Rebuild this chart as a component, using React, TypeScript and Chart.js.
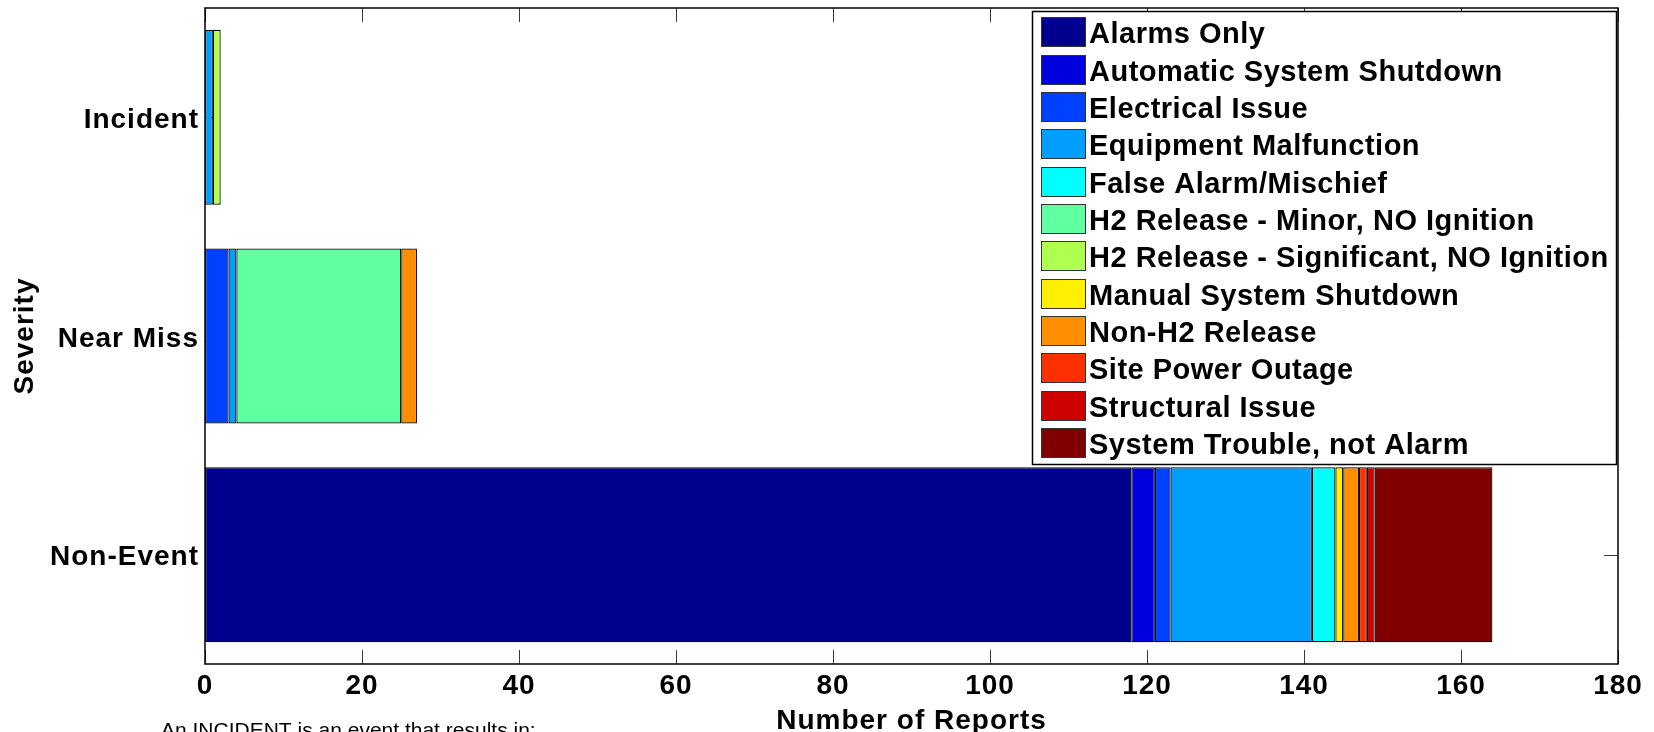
import React, { useEffect, useRef } from 'react';
import { Chart, registerables } from 'chart.js';

Chart.register(...registerables);

// ---------- data ----------
const categories = ['Incident', 'Near Miss', 'Non-Event'];

const seriesNames = [
  'Alarms Only',
  'Automatic System Shutdown',
  'Electrical Issue',
  'Equipment Malfunction',
  'False Alarm/Mischief',
  'H2 Release - Minor, NO Ignition',
  'H2 Release - Significant, NO Ignition',
  'Manual System Shutdown',
  'Non-H2 Release',
  'Site Power Outage',
  'Structural Issue',
  'System Trouble, not Alarm',
];

const seriesColors = [
  '#00008F', '#0000DF', '#0040FF', '#009FFF', '#00FFFF', '#60FF9F',
  '#AFFF50', '#FFEF00', '#FF8F00', '#FF3000', '#CF0000', '#800000',
];

// values per category: [Incident, Near Miss, Non-Event]
const alarmsOnly = [0, 0, 118];
const automaticShutdown = [0, 0, 3];
const electricalIssue = [0, 3, 2];
const equipmentMalfunction = [1, 1, 18];
const falseAlarm = [0, 0, 3];
const h2Minor = [0, 21, 0];
const h2Significant = [1, 0, 0];
const manualShutdown = [0, 0, 1];
const nonH2Release = [0, 2, 2];
const sitePowerOutage = [0, 0, 1];
const structuralIssue = [0, 0, 1];
const systemTrouble = [0, 0, 15];

const seriesValues = [
  alarmsOnly, automaticShutdown, electricalIssue, equipmentMalfunction,
  falseAlarm, h2Minor, h2Significant, manualShutdown, nonH2Release,
  sitePowerOutage, structuralIssue, systemTrouble,
];

const xMin = 0;
const xMax = 180;
const xStep = 20;

const xTitle = 'Number of Reports';
const yTitle = 'Severity';
const noteText = 'An INCIDENT is an event that results in:';

const FONT = '"Liberation Sans", Arial, Helvetica, sans-serif';

const framePlugin = {
  id: 'matlabFrame',
  beforeDraw(chart: any) {
    const ctx = chart.ctx;
    (ctx as any).letterSpacing = '1px';
    ctx.save();
    ctx.fillStyle = '#ffffff';
    ctx.fillRect(0, 0, chart.width, chart.height);
    ctx.restore();
  },
  beforeDatasetsDraw(chart: any) {
    const { ctx, chartArea: a, scales } = chart;
    ctx.save();
    ctx.strokeStyle = '#3a3a3a';
    ctx.lineWidth = 1;
    const tl = 14;
    scales.x.ticks.forEach((t: any) => {
      const px = Math.round(scales.x.getPixelForValue(t.value)) + 0.5;
      ctx.beginPath();
      ctx.moveTo(px, a.bottom);
      ctx.lineTo(px, a.bottom - tl);
      ctx.moveTo(px, a.top);
      ctx.lineTo(px, a.top + tl);
      ctx.stroke();
    });
    categories.forEach((_c, i) => {
      const py = Math.round(scales.y.getPixelForValue(i)) + 0.5;
      ctx.beginPath();
      ctx.moveTo(a.left, py);
      ctx.lineTo(a.left + tl, py);
      ctx.moveTo(a.right, py);
      ctx.lineTo(a.right - tl, py);
      ctx.stroke();
    });
    ctx.strokeStyle = '#000000';
    ctx.lineWidth = 1.5;
    ctx.strokeRect(a.left, a.top, a.right - a.left, a.bottom - a.top);
    ctx.restore();
  },
  afterDraw(chart: any) {
    const { ctx, chartArea: a } = chart;
    ctx.save();
    // legend box
    const boxW = 584;
    const boxH = 453;
    const bx = Math.round(a.right - 2 - boxW);
    const by = Math.round(a.top + 3);
    ctx.fillStyle = '#ffffff';
    ctx.fillRect(bx, by, boxW, boxH);
    ctx.strokeStyle = '#000000';
    ctx.lineWidth = 1.5;
    ctx.strokeRect(bx + 0.5, by + 0.5, boxW, boxH);
    const rowH = 37.35;
    (ctx as any).letterSpacing = '0.5px';
    ctx.font = `bold 29px ${FONT}`;
    ctx.textAlign = 'left';
    ctx.textBaseline = 'alphabetic';
    chart.data.datasets.forEach((ds: any, i: number) => {
      const sy = Math.round(by + 6.3 + rowH * i);
      ctx.fillStyle = ds.backgroundColor;
      ctx.fillRect(bx + 9, sy, 44, 29);
      ctx.strokeStyle = '#333333';
      ctx.lineWidth = 1;
      ctx.strokeRect(bx + 9.5, sy + 0.5, 44, 29);
      ctx.fillStyle = '#000000';
      ctx.fillText(ds.label, bx + 57, sy + 26);
    });
    // note text under the axis
    (ctx as any).letterSpacing = '0px';
    ctx.font = `21px ${FONT}`;
    ctx.fillStyle = '#000000';
    ctx.fillText(noteText, 161, 737);
    ctx.restore();
  },
};

export default function App() {
  const canvasRef = useRef<HTMLCanvasElement | null>(null);

  useEffect(() => {
    document.body.style.margin = '0';
    const canvas = canvasRef.current;
    if (!canvas) return;
    Chart.defaults.font.family = FONT;

    const datasets = seriesNames.map((name, i) => ({
      label: name,
      data: seriesValues[i],
      backgroundColor: seriesColors[i],
      borderColor: '#000000',
      borderWidth: 1.2,
      borderSkipped: false as const,
      barPercentage: 0.8,
      categoryPercentage: 1.0,
    }));

    const chart = new Chart(canvas, {
      type: 'bar',
      data: { labels: categories, datasets },
      options: {
        indexAxis: 'y',
        responsive: false,
        animation: false,
        layout: { padding: { top: 8, right: 36, left: 0, bottom: 0 } },
        plugins: {
          legend: { display: false },
          tooltip: { enabled: false },
        },
        scales: {
          x: {
            type: 'linear',
            stacked: true,
            min: xMin,
            max: xMax,
            grid: { display: false, drawTicks: false },
            border: { display: false },
            ticks: {
              stepSize: xStep,
              padding: 5,
              color: '#000000',
              font: { size: 28, weight: 'bold', family: FONT },
              maxRotation: 0,
              autoSkip: false,
            },
            title: {
              display: true,
              text: xTitle,
              color: '#000000',
              font: { size: 28, weight: 'bold', family: FONT },
              padding: { top: 0, bottom: -6 },
            },
            afterFit: (scale: any) => {
              scale.height = 68;
              scale.paddingLeft = 0;
              scale.paddingRight = 0;
            },
          },
          y: {
            type: 'category',
            stacked: true,
            offset: true,
            grid: { display: false, drawTicks: false },
            border: { display: false },
            ticks: {
              padding: 6,
              labelOffset: 3,
              color: '#000000',
              font: { size: 28, weight: 'bold', family: FONT },
            },
            title: {
              display: true,
              text: yTitle,
              color: '#000000',
              font: { size: 28, weight: 'bold', family: FONT },
              padding: { top: 8, bottom: 0 },
            },
            afterFit: (scale: any) => {
              scale.width = 205;
              scale.paddingTop = 0;
              scale.paddingBottom = 0;
            },
          },
        },
      },
      plugins: [framePlugin],
    });

    return () => {
      chart.destroy();
    };
  }, []);

  return (
    <div style={{ position: 'fixed', left: 0, top: 0, width: 1654, height: 732, background: '#fff' }}>
      <canvas ref={canvasRef} width={1654} height={732} style={{ width: 1654, height: 732, display: 'block' }} />
    </div>
  );
}
